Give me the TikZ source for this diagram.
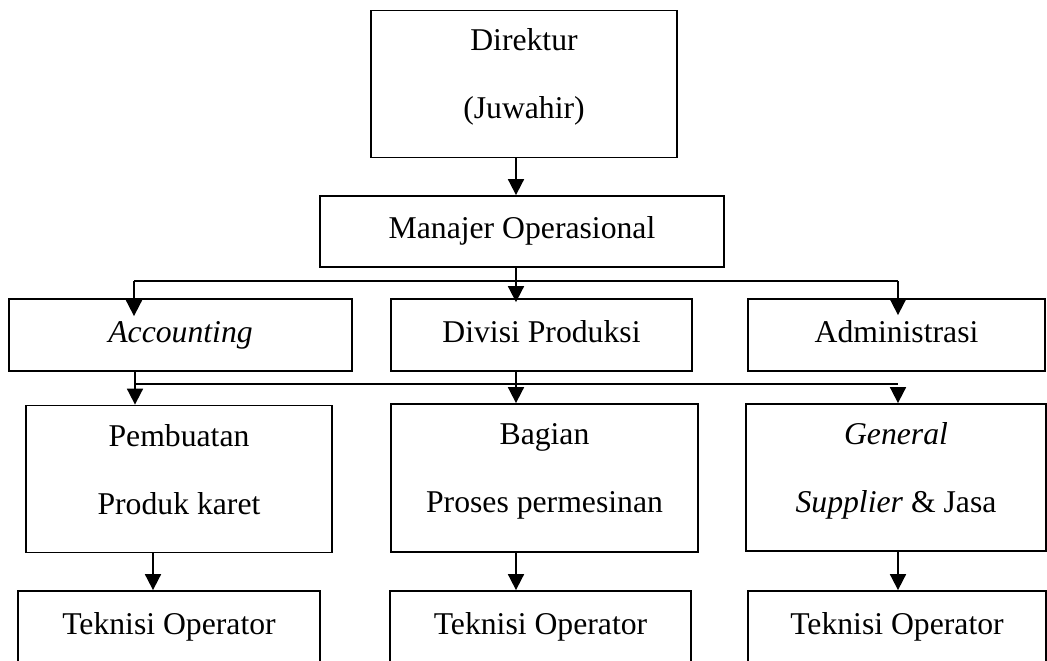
\documentclass[tikz,border=0pt]{standalone}
\usepackage{fontspec}
\setmainfont{Liberation Serif}
\usetikzlibrary{arrows.meta}
\begin{document}
\begin{tikzpicture}[x=1pt,y=-1pt,
  txt/.style={draw,line width=1.8pt,inner sep=0pt,font=\fontsize{31.7}{68}\selectfont},
  onebox/.style={txt,text height=21.5pt,text depth=7pt,minimum height=72pt},
  twobox/.style={txt,align=center,text depth=20pt,minimum height=147pt},
  bus/.style={line width=1.4pt},
  arr/.style={line width=1.8pt,-{Triangle[length=16pt,width=16pt]}}]
\useasboundingbox[fill=white] (0,0) rectangle (1047,661);

% top
\node[twobox,minimum width=306pt] (dir) at (524,84) {Direktur\\(Juwahir)};
\node[onebox,minimum width=404pt,minimum height=71pt] (man) at (522,231.5) {Manajer Operasional};

% second row
\node[onebox,minimum width=343pt] (acc) at (180.5,335) {\textit{Accounting}};
\node[onebox,minimum width=301pt] (div) at (541.5,335) {Divisi Produksi};
\node[onebox,minimum width=297pt] (adm) at (896.5,335) {Administrasi};

% third row
\node[twobox,minimum width=306pt] (pem) at (179,479) {Pembuatan\\Produk karet};
\node[twobox,minimum width=307pt,minimum height=148pt] (bag) at (544.5,478) {Bagian\\Proses permesinan};
\node[twobox,minimum width=300pt] (gen) at (896,477.5) {\textit{General}\\\textit{Supplier} \& Jasa};

% operators
\node[onebox,minimum width=302pt] (tek1) at (169,627) {Teknisi Operator};
\node[onebox,minimum width=301pt] (tek2) at (540.5,627) {Teknisi Operator};
\node[onebox,minimum width=298pt] (tek3) at (897,627) {Teknisi Operator};

\coordinate (b1) at (516,281);
\coordinate (b1l) at (134,281);
\coordinate (b1r) at (898,281);
\coordinate (b2l) at (135,384);
\coordinate (b2r) at (898,384);

\draw[arr] (dir.south -| b1) -- (man.north -| b1);
\draw[bus] (man.south -| b1) -- (b1);
\draw[bus] (b1l) -- (b1r);
\draw[arr,shorten >=-18pt] (b1l) -- (acc.north -| b1l);
\draw[arr,shorten >=-4pt] (b1) -- (div.north -| b1);
\draw[arr,shorten >=-17pt] (b1r) -- (adm.north -| b1r);

\draw[arr] (acc.south -| b2l) -- (pem.north -| b2l);
\draw[bus] (b2l) -- (b2r);
\draw[arr] (div.south -| b1) -- (bag.north -| b1);
\draw[arr] ([yshift=-4pt]b2r) -- (gen.north -| b2r);

\draw[arr] ([xshift=-26pt]pem.south) -- ([xshift=-26pt]pem.south |- tek1.north);
\draw[arr] (bag.south -| b1) -- (tek2.north -| b1);
\draw[arr] (gen.south -| b2r) -- (tek3.north -| b2r);
\end{tikzpicture}
\end{document}
